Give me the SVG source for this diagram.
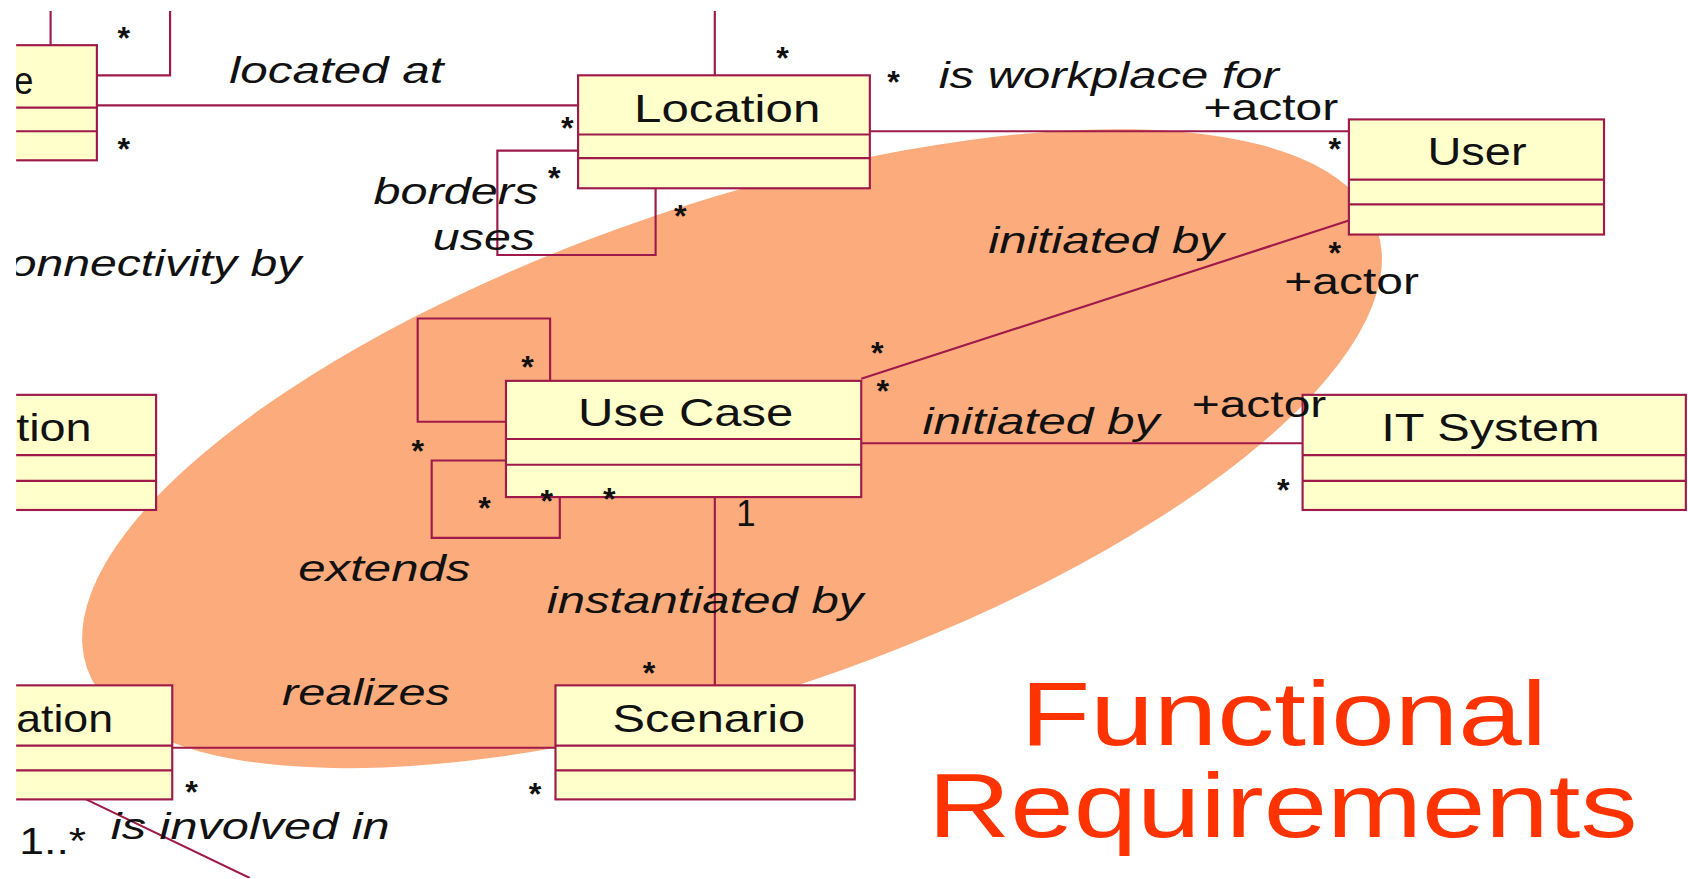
<svg xmlns="http://www.w3.org/2000/svg" width="1688" height="879" viewBox="0 0 1688 879">
  <defs>
    <clipPath id="frame">
      <rect x="15" y="10" width="1553" height="806"/>
    </clipPath>
    <style>
      .cls { fill: #FFFFCC; stroke: #9E1A4A; stroke-width: 2; }
      .sep { stroke: #9E1A4A; stroke-width: 2; fill: none; }
      .con { stroke: #9E1A4A; stroke-width: 2; fill: none; }
      .name { font-family: "Liberation Sans", Arial, sans-serif; font-size: 36px; fill: #111; }
      .role { font-family: "Liberation Sans", Arial, sans-serif; font-size: 34px; fill: #111; }
      .assoc { font-family: "Liberation Sans", Arial, sans-serif; font-size: 34px; font-style: italic; fill: #111; }
      .mult { font-family: "Liberation Sans", Arial, sans-serif; font-size: 30px; font-weight: bold; fill: #111; text-anchor: middle; }
      .title { font-family: "Liberation Sans", Arial, sans-serif; font-size: 84px; fill: #FF3300; }
    </style>
  </defs>
  <rect width="1688" height="879" fill="#FFFFFF"/>
  <g transform="scale(1.07653 1.07589)">
    <g clip-path="url(#frame)">
      <!-- highlight region around the functional-requirement classes -->
      <ellipse id="highlight" cx="680" cy="417" rx="633" ry="228" transform="rotate(-18.8 680 417)" fill="#FCAC7C"/>

      <g id="connectors">
        <line class="con" x1="47" y1="10" x2="47" y2="42"/>
        <polyline class="con" points="90,70 158,70 158,10"/>
        <line class="con" x1="90" y1="98" x2="537" y2="98"/>
        <line class="con" x1="664" y1="10" x2="664" y2="70"/>
        <polyline class="con" points="537,140 462,140 462,237 609,237 609,175"/>
        <line class="con" x1="808" y1="122" x2="1253" y2="122"/>
        <line class="con" x1="800" y1="352" x2="1253" y2="205"/>
        <polyline class="con" points="511,354 511,296 388,296 388,392 470,392"/>
        <polyline class="con" points="470,428 401,428 401,500 520,500 520,462"/>
        <line class="con" x1="800" y1="412" x2="1210" y2="412"/>
        <line class="con" x1="664" y1="462" x2="664" y2="637"/>
        <line class="con" x1="160" y1="695" x2="516" y2="695"/>
        <line class="con" x1="80" y1="743" x2="232" y2="816"/>
      </g>

      <g id="node-top-left">
        <rect class="cls" x="5" y="42" width="85" height="107"/>
        <line class="sep" x1="5" y1="100" x2="90" y2="100"/>
        <line class="sep" x1="5" y1="122" x2="90" y2="122"/>
        <text class="name" x="13" y="87" textLength="18" lengthAdjust="spacingAndGlyphs">e</text>
      </g>

      <g id="node-location">
        <rect class="cls" x="537" y="70" width="271" height="105"/>
        <line class="sep" x1="537" y1="125" x2="808" y2="125"/>
        <line class="sep" x1="537" y1="147" x2="808" y2="147"/>
        <text class="name" x="589" y="113" textLength="173" lengthAdjust="spacingAndGlyphs">Location</text>
      </g>

      <g id="node-user">
        <rect class="cls" x="1253" y="111" width="237" height="107"/>
        <line class="sep" x1="1253" y1="167" x2="1490" y2="167"/>
        <line class="sep" x1="1253" y1="190" x2="1490" y2="190"/>
        <text class="name" x="1326" y="153" textLength="92" lengthAdjust="spacingAndGlyphs">User</text>
      </g>

      <g id="node-left-mid">
        <rect class="cls" x="5" y="367" width="140" height="107"/>
        <line class="sep" x1="5" y1="423" x2="145" y2="423"/>
        <line class="sep" x1="5" y1="447" x2="145" y2="447"/>
        <text class="name" x="15" y="410" textLength="70" lengthAdjust="spacingAndGlyphs">tion</text>
      </g>

      <g id="node-use-case">
        <rect class="cls" x="470" y="354" width="330" height="108"/>
        <line class="sep" x1="470" y1="408" x2="800" y2="408"/>
        <line class="sep" x1="470" y1="432" x2="800" y2="432"/>
        <text class="name" x="537" y="396" textLength="200" lengthAdjust="spacingAndGlyphs">Use Case</text>
      </g>

      <g id="node-it-system">
        <rect class="cls" x="1210" y="367" width="356" height="107"/>
        <line class="sep" x1="1210" y1="423" x2="1566" y2="423"/>
        <line class="sep" x1="1210" y1="447" x2="1566" y2="447"/>
        <text class="name" x="1283" y="410" textLength="203" lengthAdjust="spacingAndGlyphs">IT System</text>
      </g>

      <g id="node-left-bottom">
        <rect class="cls" x="5" y="637" width="155" height="106"/>
        <line class="sep" x1="5" y1="693" x2="160" y2="693"/>
        <line class="sep" x1="5" y1="716" x2="160" y2="716"/>
        <text class="name" x="15" y="680" textLength="90" lengthAdjust="spacingAndGlyphs">ation</text>
      </g>

      <g id="node-scenario">
        <rect class="cls" x="516" y="637" width="278" height="106"/>
        <line class="sep" x1="516" y1="693" x2="794" y2="693"/>
        <line class="sep" x1="516" y1="716" x2="794" y2="716"/>
        <text class="name" x="569" y="680" textLength="179" lengthAdjust="spacingAndGlyphs">Scenario</text>
      </g>

      <g id="labels">
        <text class="assoc" x="213" y="77" textLength="199" lengthAdjust="spacingAndGlyphs">located at</text>
        <text class="assoc" x="872" y="82" textLength="316" lengthAdjust="spacingAndGlyphs">is workplace for</text>
        <text class="role" x="1118" y="112" textLength="125" lengthAdjust="spacingAndGlyphs">+actor</text>
        <text class="assoc" x="347" y="190" textLength="153" lengthAdjust="spacingAndGlyphs">borders</text>
        <text class="assoc" x="402" y="232" textLength="95" lengthAdjust="spacingAndGlyphs">uses</text>
        <text class="assoc" x="9" y="257" textLength="271" lengthAdjust="spacingAndGlyphs">onnectivity by</text>
        <text class="assoc" x="918" y="235" textLength="219" lengthAdjust="spacingAndGlyphs">initiated by</text>
        <text class="role" x="1193" y="273" textLength="125" lengthAdjust="spacingAndGlyphs">+actor</text>
        <text class="assoc" x="857" y="403" textLength="220" lengthAdjust="spacingAndGlyphs">initiated by</text>
        <text class="role" x="1107" y="388" textLength="125" lengthAdjust="spacingAndGlyphs">+actor</text>
        <text class="role" x="684" y="489" textLength="18" lengthAdjust="spacingAndGlyphs">1</text>
        <text class="assoc" x="277" y="540" textLength="160" lengthAdjust="spacingAndGlyphs">extends</text>
        <text class="assoc" x="508" y="570" textLength="294" lengthAdjust="spacingAndGlyphs">instantiated by</text>
        <text class="assoc" x="262" y="655" textLength="156" lengthAdjust="spacingAndGlyphs">realizes</text>
        <text class="assoc" x="103" y="780" textLength="259" lengthAdjust="spacingAndGlyphs">is involved in</text>
        <text class="role" x="18" y="794" textLength="62" lengthAdjust="spacingAndGlyphs">1..*</text>
      </g>

      <g id="multiplicities">
        <text class="mult" x="115" y="46">*</text>
        <text class="mult" x="115" y="149">*</text>
        <text class="mult" x="527" y="129">*</text>
        <text class="mult" x="515" y="176">*</text>
        <text class="mult" x="632" y="211">*</text>
        <text class="mult" x="727" y="64">*</text>
        <text class="mult" x="830" y="86">*</text>
        <text class="mult" x="1240" y="149">*</text>
        <text class="mult" x="1240" y="245">*</text>
        <text class="mult" x="815" y="338">*</text>
        <text class="mult" x="820" y="374">*</text>
        <text class="mult" x="490" y="351">*</text>
        <text class="mult" x="388" y="429">*</text>
        <text class="mult" x="450" y="482">*</text>
        <text class="mult" x="508" y="476">*</text>
        <text class="mult" x="566" y="474">*</text>
        <text class="mult" x="1192" y="466">*</text>
        <text class="mult" x="603" y="636">*</text>
        <text class="mult" x="178" y="746">*</text>
        <text class="mult" x="497" y="748">*</text>
      </g>
    </g>

    <g id="heading">
      <text class="title" x="948" y="692" textLength="489" lengthAdjust="spacingAndGlyphs">Functional</text>
      <text class="title" x="862" y="778" textLength="659" lengthAdjust="spacingAndGlyphs">Requirements</text>
    </g>
  </g>
</svg>
